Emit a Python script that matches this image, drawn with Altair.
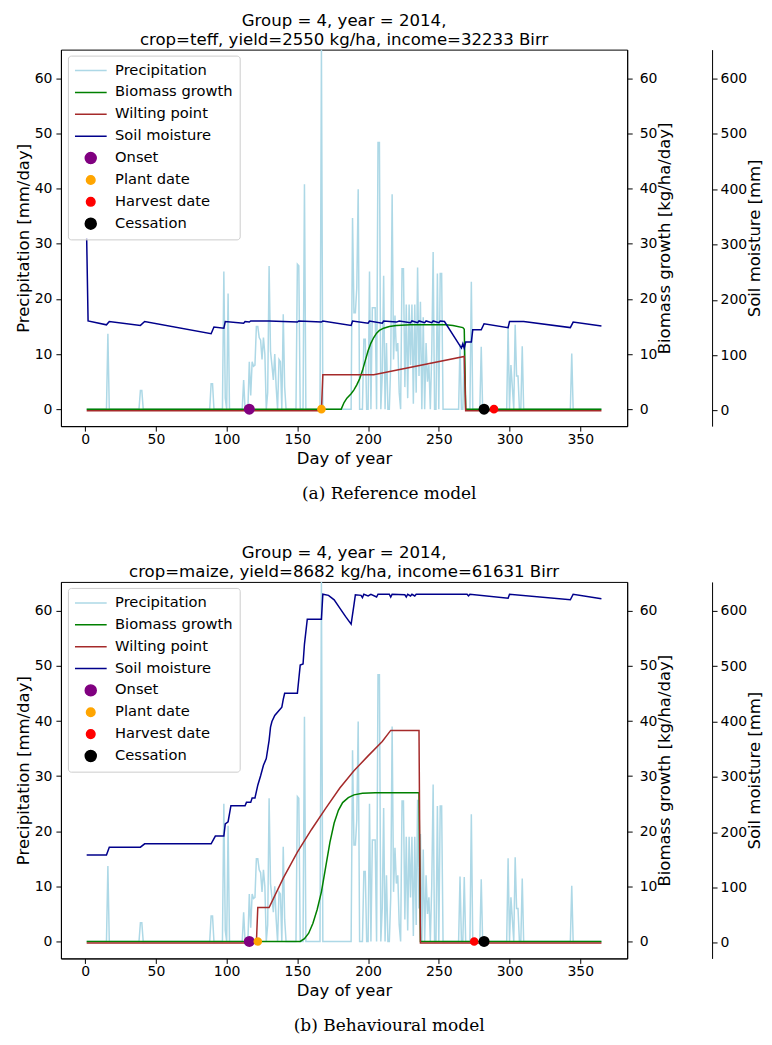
import altair as alt
import pandas as pd

# ---------------- data ----------------
DAYS = list(range(1, 366))

# daily precipitation (same weather year in both panels): rain days and amounts [mm/day]
RAIN_DAYS = [16, 39, 40, 89, 90, 98, 99, 101, 112, 116, 117, 118, 119, 120, 121, 122, 123,
             124, 125, 126, 127, 129, 130, 131, 132, 133, 134, 135, 137, 138, 140, 141,
             150, 151, 155, 167, 189, 190, 191, 192, 193, 197, 198, 201, 203, 204, 205,
             207, 208, 210, 211, 213, 216, 217, 218, 219, 220, 221, 222, 224, 225, 226,
             227, 228, 229, 230, 231, 232, 233, 234, 235, 236, 237, 239, 241, 242, 243,
             245, 246, 249, 251, 252, 265, 268, 273, 280, 299, 301, 302, 304, 305, 306,
             309, 344]
RAIN_MM = [13.7, 3.4, 3.4, 4.6, 4.6, 25.0, 2.0, 21.0, 5.3, 8.6, 2.5, 8.6, 7.8, 8.0, 15.0,
           15.0, 13.0, 12.5, 9.0, 13.0, 10.0, 3.0, 26.0, 10.5, 8.0, 5.3, 10.0, 4.0, 9.0,
           8.6, 17.2, 4.0, 26.3, 26.0, 40.8, 65.3, 34.7, 17.5, 17.5, 22.0, 39.9, 12.7,
           12.7, 25.0, 18.4, 18.4, 18.4, 48.4, 48.4, 6.0, 24.2, 12.0, 8.0, 39.0, 9.0,
           17.0, 10.5, 12.0, 3.0, 25.5, 25.5, 4.0, 19.0, 2.0, 19.0, 8.0, 19.0, 1.0, 19.0,
           3.0, 25.7, 6.0, 19.5, 16.7, 12.0, 5.0, 8.0, 10.0, 28.5, 24.6, 24.6, 24.6, 11.8,
           11.7, 23.1, 11.3, 15.1, 8.0, 4.0, 15.3, 6.0, 6.0, 11.4, 10.1]

# ---- (a) reference model ----
A_TITLE = ["Group = 4, year = 2014,", "crop=teff, yield=2550 kg/ha, income=32233 Birr"]
A_CAPTION = "(a) Reference model"
A_BIO_DAYS = [1, 181, 183, 185, 188, 190, 192, 194, 196, 198, 200, 202, 204, 206, 208,
              211, 215, 220, 230, 255, 260, 267, 268, 269, 365]
A_BIO = [0, 0, 1.2, 2.0, 2.8, 3.5, 4.4, 5.5, 7.0, 8.8, 10.6, 12.0, 13.0, 13.8, 14.3,
         14.7, 15.0, 15.2, 15.3, 15.3, 15.2, 14.8, 14.5, 0, 0]
A_WILT_DAYS = [1, 167, 168, 204, 268, 269, 365]
A_WILT = [0, 0, 65, 65, 98, 0, 0]
A_SOIL_DAYS = [1, 2, 15, 17, 39, 42, 89, 91, 98, 99, 112, 113, 116, 117, 130, 150, 151,
               167, 168, 188, 189, 200, 201, 210, 211, 220, 222, 230, 231, 235, 236, 240,
               241, 245, 246, 250, 251, 254, 266, 267, 268, 269, 273, 274, 280, 282, 299,
               300, 310, 343, 345, 365]
A_SOIL = [312, 162, 155, 161, 154, 161, 139, 151, 149, 161, 158, 161, 160, 162, 162, 160,
          162, 160, 162, 154, 162, 158, 162, 158, 162, 160, 162, 159, 162, 159, 162, 159,
          162, 159, 162, 159, 162, 161, 113, 121, 113, 124, 124, 146, 146, 157, 150, 161,
          161, 150, 160, 153]
A_EVENT_DAYS = [116, 167, 289, 282]

# ---- (b) behavioural model ----
B_TITLE = ["Group = 4, year = 2014,", "crop=maize, yield=8682 kg/ha, income=61631 Birr"]
B_CAPTION = "(b) Behavioural model"
B_BIO_DAYS = [1, 152, 155, 158, 161, 164, 167, 170, 173, 176, 179, 182, 186, 190, 196,
              205, 236, 237, 365]
B_BIO = [0, 0, 0.5, 1.5, 3.3, 5.8, 9.0, 13.5, 18.0, 21.5, 23.8, 25.2, 26.1, 26.6, 26.9,
         27.0, 27.0, 0, 0]
B_WILT_DAYS = [1, 121, 122, 130, 140, 150, 160, 170, 180, 190, 200, 210, 216, 236, 237, 365]
B_WILT = [0, 0, 64, 64, 117, 164, 205, 243, 280, 311, 338, 364, 384, 384, 0, 0]
B_SOIL_DAYS = [1, 15, 17, 39, 42, 89, 92, 98, 99, 101, 103, 113, 114, 117, 118, 120, 122,
               124, 126, 128, 130, 131, 132, 134, 137, 139, 140, 141, 150, 152, 154, 155,
               157, 167, 168, 172, 176, 180, 184, 188, 190, 191, 195, 196, 197, 200, 202,
               206, 207, 215, 216, 217, 226, 227, 228, 230, 231, 233, 234, 270, 271, 272,
               299, 300, 343, 345, 365]
B_SOIL = [159, 159, 173, 173, 179, 179, 193, 193, 215, 219, 248, 248, 254, 254, 262, 262,
          285, 302, 321, 333, 366, 390, 400, 411, 420, 426, 440, 451, 451, 502, 504, 540,
          585, 585, 630, 628, 620, 605, 590, 576, 611, 629, 628, 624, 630, 627, 630, 625,
          630, 630, 625, 630, 629, 625, 630, 627, 630, 627, 630, 630, 627, 630, 623, 630,
          620, 630, 622]
B_EVENT_DAYS = [116, 122, 275, 282]

SERIES = ["Precipitation", "Biomass growth", "Wilting point", "Soil moisture",
          "Onset", "Plant date", "Harvest date", "Cessation"]
EVENTS = ["Onset", "Plant date", "Harvest date", "Cessation"]
SERIES_COLORS = ["#add8e6", "#008000", "#a52a2a", "#00008b",
                 "#800080", "#ffa500", "#ff0000", "#000000"]
LINE_GLYPH = "M-2.9,0H2.9"
SMALL_DOT = "M-0.78,0A0.78,0.78 0 1,0 0.78,0A0.78,0.78 0 1,0 -0.78,0Z"
SERIES_SHAPES = [LINE_GLYPH] * 4 + ["circle", SMALL_DOT, SMALL_DOT, "circle"]

X_TICKS = [0, 50, 100, 150, 200, 250, 300, 350]
LEFT_TICKS = [0, 10, 20, 30, 40, 50, 60]
SOIL_TICKS = [0, 100, 200, 300, 400, 500, 600]

# ---------------- chart ----------------
precip = [0.0] * len(DAYS)
for d, v in zip(RAIN_DAYS, RAIN_MM):
    precip[d - 1] = v

X_SCALE = alt.Scale(domain=[-17.2, 383.2], nice=False, zero=False)
Y_LEFT = alt.Scale(domain=[-3.08, 65.25], nice=False, zero=False)
Y_SOIL = alt.Scale(domain=[-28.0, 652.3], nice=False, zero=False)

FONT = "DejaVu Sans"
W, H = 567, 377


def panel(title, caption, bio_d, bio_v, wilt_d, wilt_v, soil_d, soil_v, ev_d):
    df_p = pd.DataFrame({"day": DAYS, "value": precip, "series": "Precipitation"})
    df_b = pd.DataFrame({"day": bio_d, "value": bio_v, "series": "Biomass growth"})
    df_w = pd.DataFrame({"day": wilt_d, "value": wilt_v, "series": "Wilting point"})
    df_s = pd.DataFrame({"day": soil_d, "value": soil_v, "series": "Soil moisture"})
    df_e = pd.DataFrame({"day": ev_d, "value": [0] * len(ev_d), "series": EVENTS})

    def xenc():
        return alt.X("day:Q", scale=X_SCALE,
                     axis=alt.Axis(title="Day of year", values=X_TICKS,
                                   labelPadding=1, titlePadding=4, titleFontSize=16.5))

    color = alt.Color("series:N",
                      scale=alt.Scale(domain=SERIES, range=SERIES_COLORS),
                      legend=alt.Legend(title=None))

    def soil_y():
        return alt.Y("value:Q", scale=Y_SOIL,
                     axis=alt.Axis(orient="right", offset=85, title="Soil moisture [mm]",
                                   values=SOIL_TICKS, titleAngle=270, titleBaseline="top",
                                   labelPadding=3, titlePadding=0))

    prec = alt.Chart(df_p).mark_line(strokeWidth=1.5, clip=True).encode(
        x=xenc(),
        y=alt.Y("value:Q", scale=Y_LEFT,
                axis=alt.Axis(orient="left", title="Precipitation [mm/day]",
                              values=LEFT_TICKS, labelPadding=4, titlePadding=3)),
        color=color)
    bio = alt.Chart(df_b).mark_line(strokeWidth=1.5).encode(
        x=xenc(),
        y=alt.Y("value:Q", scale=Y_LEFT,
                axis=alt.Axis(orient="right", title="Biomass growth [kg/ha/day]",
                              values=LEFT_TICKS, titleAngle=270, titleBaseline="top",
                              labelPadding=7, titlePadding=0)),
        color=color)
    wilt = alt.Chart(df_w).mark_line(strokeWidth=1.5).encode(
        x=xenc(), y=soil_y(), color=color)
    soil = alt.Chart(df_s).mark_line(strokeWidth=1.5).encode(
        x=xenc(), y=soil_y(), color=color)
    pts = alt.Chart(df_e).mark_point(filled=True, size=121, opacity=1).encode(
        x=xenc(),
        y=alt.Y("value:Q", scale=Y_LEFT, axis=None),
        color=color,
        shape=alt.Shape("series:N",
                        scale=alt.Scale(domain=SERIES, range=SERIES_SHAPES),
                        legend=alt.Legend(title=None)))

    chart = alt.layer(prec, bio, alt.layer(wilt, soil), pts).resolve_scale(
        y="independent").properties(
        width=W, height=H,
        title=alt.Title(title, font=FONT, fontSize=16.6, fontWeight="normal",
                        anchor="middle", frame="group", offset=1, lineHeight=19,
                        color="black"))
    wrapped = alt.vconcat(chart).resolve_scale(
        color="independent", shape="independent").properties(
        title=alt.Title(caption, orient="bottom", font="DejaVu Serif", fontSize=17,
                        fontWeight="normal", anchor="middle", offset=19,
                        color="black"))
    return wrapped


pa = panel(A_TITLE, A_CAPTION, A_BIO_DAYS, A_BIO, A_WILT_DAYS, A_WILT,
           A_SOIL_DAYS, A_SOIL, A_EVENT_DAYS)
pb = panel(B_TITLE, B_CAPTION, B_BIO_DAYS, B_BIO, B_WILT_DAYS, B_WILT,
           B_SOIL_DAYS, B_SOIL, B_EVENT_DAYS)

final = alt.vconcat(pa, pb, spacing=42).resolve_scale(
    color="independent", shape="independent"
).properties(
    padding={"left": 6, "top": 3, "right": 0, "bottom": 0}
).configure_view(stroke="black", strokeWidth=1).configure_axis(
    grid=False, domainColor="black", tickColor="black", labelColor="black",
    titleColor="black", labelFont=FONT, titleFont=FONT, labelFontSize=14,
    titleFontSize=16.5, titleFontWeight="normal", tickSize=5,
    domainWidth=1, tickWidth=1
).configure_legend(
    orient="none", legendX=7, legendY=6, padding=7,
    fillColor="rgba(255,255,255,0.8)",
    strokeColor="#cccccc", cornerRadius=3, labelFont=FONT, labelFontSize=14.7,
    labelColor="black", symbolSize=121, symbolStrokeWidth=1.5, symbolOffset=8.5,
    labelOffset=17, clipHeight=16, rowPadding=5.9, labelLimit=300
)

final.save("out.html", embed_options={"renderer": "svg", "actions": False})
